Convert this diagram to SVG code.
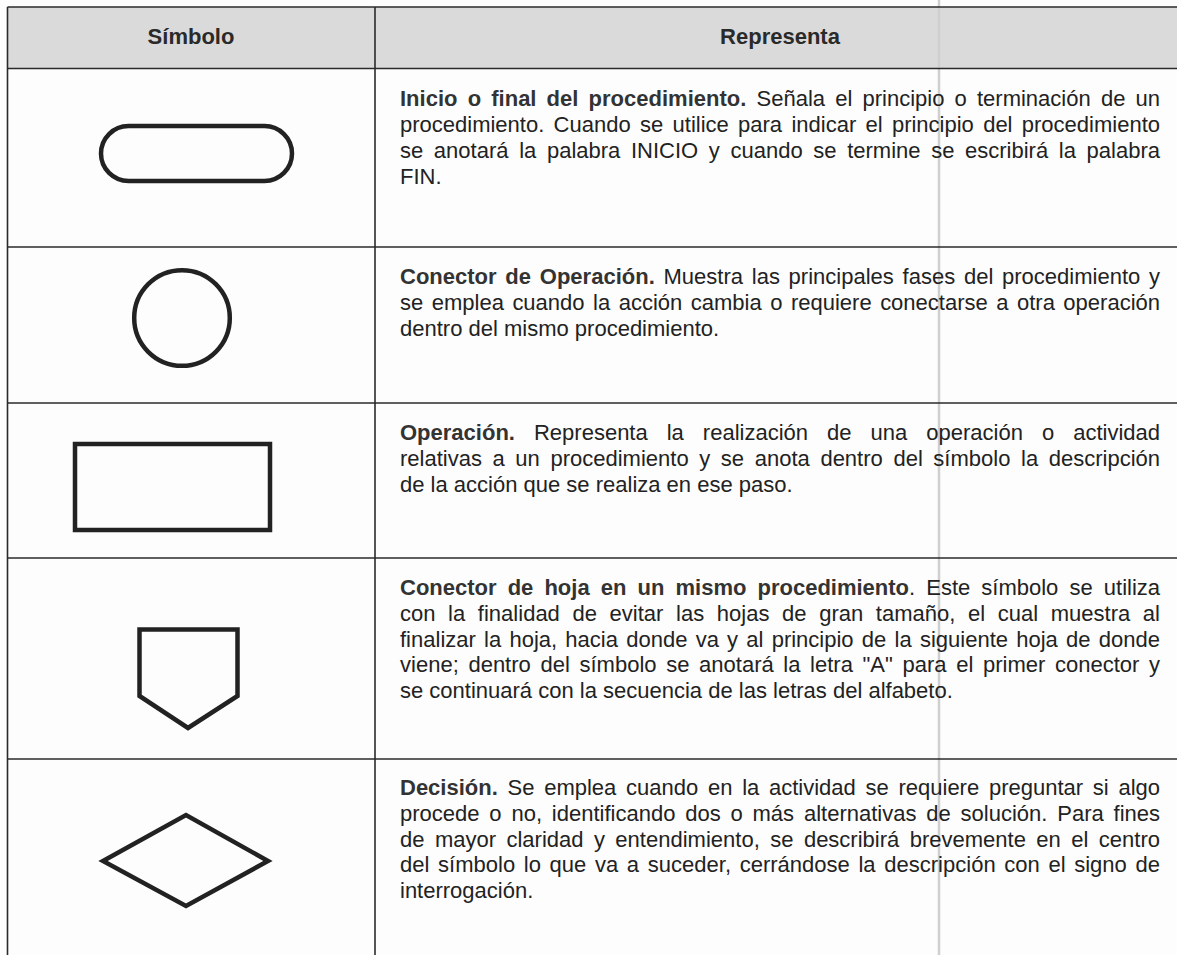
<svg xmlns="http://www.w3.org/2000/svg" width="1177" height="955" viewBox="0 0 1177 955">
<style>
.bg{fill:#fdfdfd}
.hdr{fill:#dadada}
.grid line{stroke:#2a2a2a;stroke-width:1.6}
.fold{stroke:#cfcfcf;stroke-width:2.5}
.shape{fill:none;stroke:#222;stroke-width:4.5;stroke-linejoin:miter}
.h{font-family:"Liberation Sans",Arial,sans-serif;font-size:22px;font-weight:bold;fill:#2a2a2a;text-anchor:middle}
.t{font-family:"Liberation Sans",Arial,sans-serif;font-size:22px;fill:#222}
.b{font-weight:bold;fill:#333}
</style>
<rect class="bg" x="0" y="0" width="1177" height="955"/>
<rect class="hdr" x="7.5" y="7" width="1169.5" height="61.5"/>
<line class="fold" x1="939" y1="0" x2="939" y2="955"/>
<g id="grid" class="grid">
<line x1="7.5" y1="7" x2="1177" y2="7"/>
<line x1="7.5" y1="68.5" x2="1177" y2="68.5"/>
<line x1="7.5" y1="247" x2="1177" y2="247"/>
<line x1="7.5" y1="403" x2="1177" y2="403"/>
<line x1="7.5" y1="558" x2="1177" y2="558"/>
<line x1="7.5" y1="759" x2="1177" y2="759"/>
<line x1="7.5" y1="7" x2="7.5" y2="955"/>
<line x1="375" y1="7" x2="375" y2="955"/>
</g>
<g id="connectors"></g>
<g id="header">
<text class="h" x="191" y="44">Símbolo</text>
<text class="h" x="780" y="44">Representa</text>
</g>
<g id="row-inicio">
<rect class="shape" x="101" y="126" width="191" height="55" rx="27.5" ry="27.5"/>
<text class="t" x="400" y="106" word-spacing="4" textLength="760" lengthAdjust="spacing"><tspan class="b">Inicio o final del procedimiento.</tspan> Señala el principio o terminación de un</text>
<text class="t" x="400" y="132" word-spacing="3.2" textLength="760" lengthAdjust="spacing">procedimiento. Cuando se utilice para indicar el principio del procedimiento</text>
<text class="t" x="400" y="158" word-spacing="4.5" textLength="760" lengthAdjust="spacing">se anotará la palabra INICIO y cuando se termine se escribirá la palabra</text>
<text class="t" x="400" y="184">FIN.</text>
</g>
<g id="row-conector-operacion">
<circle class="shape" cx="182" cy="318" r="47.8"/>
<text class="t" x="400" y="284" word-spacing="2.6" textLength="760" lengthAdjust="spacing"><tspan class="b">Conector de Operación.</tspan> Muestra las principales fases del procedimiento y</text>
<text class="t" x="400" y="310" word-spacing="2.4" textLength="760" lengthAdjust="spacing">se emplea cuando la acción cambia o requiere conectarse a otra operación</text>
<text class="t" x="400" y="336">dentro del mismo procedimiento.</text>
</g>
<g id="row-operacion">
<rect class="shape" x="75" y="444" width="195" height="86"/>
<text class="t" x="400" y="440" word-spacing="12.9" textLength="760" lengthAdjust="spacing"><tspan class="b">Operación.</tspan> Representa la realización de una operación o actividad</text>
<text class="t" x="400" y="466" word-spacing="4.5" textLength="760" lengthAdjust="spacing">relativas a un procedimiento y se anota dentro del símbolo la descripción</text>
<text class="t" x="400" y="492">de la acción que se realiza en ese paso.</text>
</g>
<g id="row-conector-hoja">
<polygon class="shape" points="139.5,629.5 237.5,629.5 237.5,696 188,728 139.5,696"/>
<text class="t" x="400" y="595" word-spacing="5" textLength="760" lengthAdjust="spacing"><tspan class="b">Conector de hoja en un mismo procedimiento</tspan>. Este símbolo se utiliza</text>
<text class="t" x="400" y="621" word-spacing="6.5" textLength="760" lengthAdjust="spacing">con la finalidad de evitar las hojas de gran tamaño, el cual muestra al</text>
<text class="t" x="400" y="647" word-spacing="2.1" textLength="760" lengthAdjust="spacing">finalizar la hoja, hacia donde va y al principio de la siguiente hoja de donde</text>
<text class="t" x="400" y="672" word-spacing="3.5" textLength="760" lengthAdjust="spacing">viene; dentro del símbolo se anotará la letra "A" para el primer conector y</text>
<text class="t" x="400" y="698">se continuará con la secuencia de las letras del alfabeto.</text>
</g>
<g id="row-decision">
<polygon class="shape" points="103,861 186,815 268,861 186,906"/>
<text class="t" x="400" y="795" word-spacing="3.6" textLength="760" lengthAdjust="spacing"><tspan class="b">Decisión.</tspan> Se emplea cuando en la actividad se requiere preguntar si algo</text>
<text class="t" x="400" y="821" word-spacing="3.7" textLength="760" lengthAdjust="spacing">procede o no, identificando dos o más alternativas de solución. Para fines</text>
<text class="t" x="400" y="847" word-spacing="4.3" textLength="760" lengthAdjust="spacing">de mayor claridad y entendimiento, se describirá brevemente en el centro</text>
<text class="t" x="400" y="872" word-spacing="2.5" textLength="760" lengthAdjust="spacing">del símbolo lo que va a suceder, cerrándose la descripción con el signo de</text>
<text class="t" x="400" y="898">interrogación.</text>
</g>
</svg>
